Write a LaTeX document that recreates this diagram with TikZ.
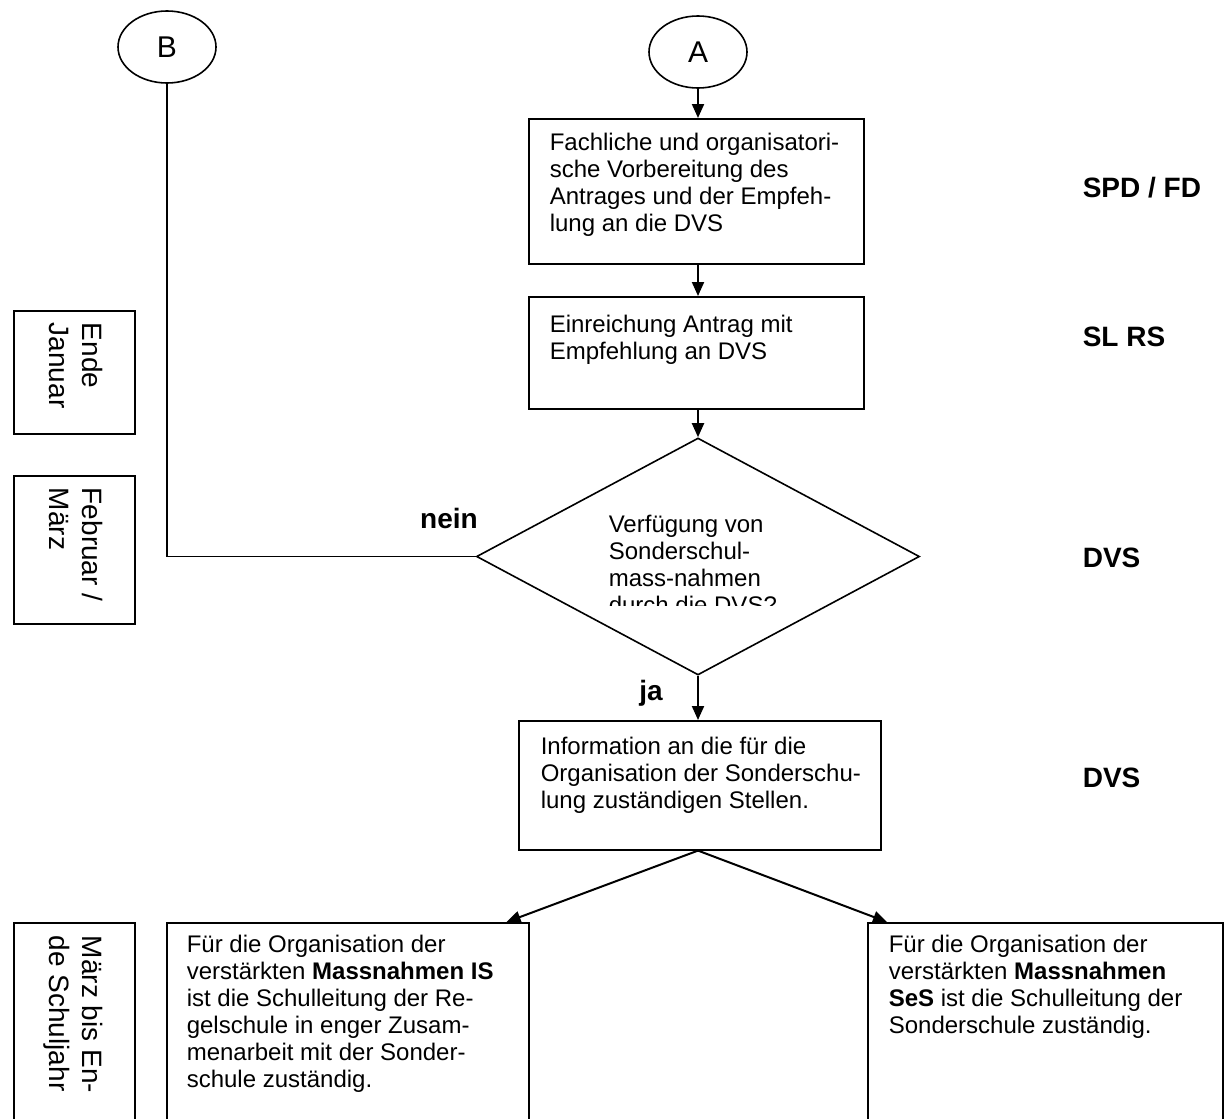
\documentclass[tikz,border=0pt]{standalone}
\usepackage{fontspec}
\setmainfont{Liberation Sans}
\usetikzlibrary{shapes.geometric,arrows.meta,calc}
\begin{document}
\begin{tikzpicture}[x=1pt,y=-1pt,
  line width=1.6pt,
  box/.style={draw, rectangle, inner sep=0pt, anchor=north west},
  txt/.style={anchor=north west, inner sep=0pt, align=left, font=\fontsize{24}{27}\selectfont},
  rtxt/.style={anchor=north west, inner sep=0pt, align=left, rotate=-90, font=\fontsize{28}{33}\selectfont},
  lbl/.style={anchor=base west, inner sep=0pt, font=\fontsize{28}{32}\selectfont\bfseries},
  arr/.style={-{Triangle[length=14pt,width=12pt]}, line width=2pt},
  conn/.style={draw, ellipse, minimum width=98pt, minimum height=72pt, inner sep=0pt, font=\fontsize{30}{32}\selectfont}
]
\useasboundingbox (0,0) rectangle (1229,1119);
\clip (0,0) rectangle (1229,1119);

% connectors (circles)
\node[conn] (B) at (167,47) {B};
\node[conn] (A) at (698,52) {A};

% main boxes
\node[box, minimum width=335pt, minimum height=145pt] (b1) at (528,118) {};
\node[box, minimum width=335pt, minimum height=112pt] (b2) at (528,296) {};
\node[draw, diamond, minimum width=443pt, minimum height=237pt, inner sep=0pt] (dec) at (698,556.5) {};
\node[box, minimum width=362pt, minimum height=129pt] (b3) at (518,720) {};
\node[box, minimum width=362pt, minimum height=230pt] (b4) at (166,922) {};
\node[box, minimum width=355pt, minimum height=230pt] (b5) at (867,922) {};

% left time boxes
\node[box, minimum width=121pt, minimum height=123pt] (t1) at (13,310) {};
\node[box, minimum width=121pt, minimum height=148pt] (t2) at (13,475) {};
\node[box, minimum width=121pt, minimum height=230pt] (t3) at (13,922) {};

% texts
\node[txt] (b1t) at (549,132.5) {Fachliche und organisatori-\\sche Vorbereitung des\\Antrages und der Empfeh-\\lung an die DVS};
\node[txt] (b2t) at (549,314.5) {Einreichung Antrag mit\\Empfehlung an DVS};
\begin{scope}
\clip (600,500) rectangle (880,605);
\node[txt] (dect) at (608,514.5) {Verfügung von\\Sonderschul-\\mass-nahmen\\durch die DVS?};
\end{scope}
\node[txt] (b3t) at (540,736.5) {Information an die für die\\Organisation der Sonderschu-\\lung zuständigen Stellen.};
\node[txt] (b4t) at (186,934.5) {Für die Organisation der\\verstärkten \textbf{Massnahmen IS}\\ist die Schulleitung der Re-\\gelschule in enger Zusam-\\menarbeit mit der Sonder-\\schule zuständig.};
\node[txt] (b5t) at (888,934.5) {Für die Organisation der\\verstärkten \textbf{Massnahmen}\\\textbf{SeS} ist die Schulleitung der\\Sonderschule zuständig.};

\node[rtxt] (t1t) at (104,322) {Ende\\Januar};
\node[rtxt] (t2t) at (104,487) {Februar /\\März};
\node[rtxt] (t3t) at (104,935) {März bis En-\\de Schuljahr};

% right-hand responsibility labels
\node[lbl] (l1) at (1082,197) {SPD / FD};
\node[lbl] (l2) at (1082,346) {SL RS};
\node[lbl] (l3) at (1082,567) {DVS};
\node[lbl] (l4) at (1082,787) {DVS};

% branch labels
\node[lbl, anchor=base] (nein) at (449,528) {nein};
\node[lbl, anchor=base] (ja) at (651,700) {ja};

% connectors
\draw[arr] (A) -- (A |- b1.north);
\draw[arr] (b1.south -| A) -- (b2.north -| A);
\draw[arr] (b2.south -| A) -- (dec.north);
\draw[arr] (dec.south) -- (b3.north -| A);
\draw[arr] (b3.south -| A) -- ([xshift=-23pt]b4.north east);
\draw[arr] (b3.south -| A) -- ([xshift=20pt]b5.north west);
\draw (B) |- (dec.west);
\end{tikzpicture}
\end{document}
